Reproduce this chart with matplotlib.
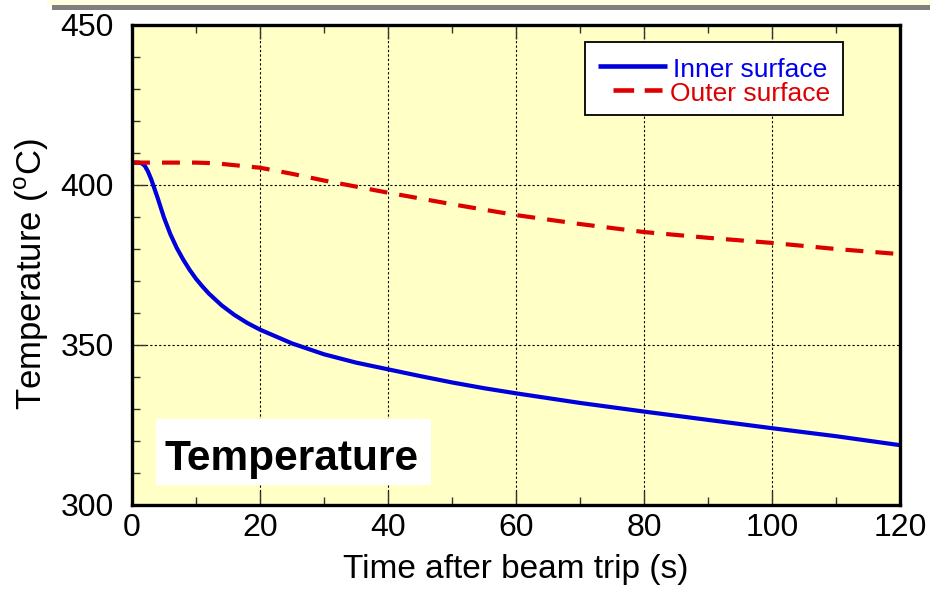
import matplotlib
matplotlib.use("Agg")
import matplotlib.pyplot as plt
from matplotlib.patches import Rectangle
from matplotlib.ticker import MultipleLocator

plt.rcParams['font.family'] = ['Liberation Sans', 'DejaVu Sans']
plt.rcParams['mathtext.fontset'] = 'custom'
plt.rcParams['mathtext.rm'] = 'Liberation Sans'

# data
inner_time = [0, 1, 1.5, 2, 2.5, 3, 4, 5, 6, 7, 8, 9, 10, 11, 12, 14, 16, 18, 20, 25, 30,
              35, 40, 45, 50, 55, 60, 70, 80, 90, 100, 110, 120]
inner_temp = [407, 407, 406.8, 406, 404.2, 401.8, 396, 389.8, 384.6, 380.3, 376.7, 373.5,
              370.7, 368.3, 366.1, 362.4, 359.4, 356.9, 354.8, 350.5, 347.1, 344.5, 342.4,
              340.3, 338.3, 336.5, 334.9, 331.9, 329.2, 326.6, 324, 321.5, 318.7]
outer_time = [0, 5, 10, 13, 15, 20, 25, 30, 35, 40, 50, 60, 70, 80, 90, 100, 110, 120]
outer_temp = [407, 407, 407, 406.8, 406.4, 405.4, 403.5, 401.4, 399.5, 397.6, 394, 390.6,
              387.8, 385.3, 383.5, 381.9, 380, 378.4]
x_ticks = [0, 20, 40, 60, 80, 100, 120]
y_ticks = [300, 350, 400, 450]

fig = plt.figure(figsize=(9.3, 6.01), dpi=100)
# slide decoration at the top
fig.patches.append(Rectangle((47 / 930, 1 - 5 / 601), 1, 5 / 601, transform=fig.transFigure,
                             facecolor='#FFFFE0', edgecolor='none'))
fig.patches.append(Rectangle((52 / 930, 1 - 10 / 601), 1, 5 / 601, transform=fig.transFigure,
                             facecolor='#808080', edgecolor='none'))

ax = fig.add_axes([132 / 930, 96 / 601, 768 / 930, 480 / 601])
ax.set_facecolor('#FFFFC6')

blue = '#0000DD'
red = '#DD0000'
ax.plot(inner_time, inner_temp, color=blue, lw=3, solid_capstyle='butt')
ax.plot(outer_time, outer_temp, color=red, lw=3, linestyle=(0, (4.3, 2.9)))

ax.set_xlim(0, 120)
ax.set_ylim(300, 450)
ax.set_xticks(x_ticks)
ax.set_yticks(y_ticks)
ax.xaxis.set_minor_locator(MultipleLocator(10))
ax.yaxis.set_minor_locator(MultipleLocator(10))
ax.tick_params(which='both', direction='in', top=True, right=False, color='#333333')
ax.tick_params(which='major', length=10, width=1, labelsize=23)
ax.tick_params(which='minor', length=6, width=1)
ax.tick_params(axis='x', which='major', pad=6)
ax.tick_params(axis='y', which='major', pad=13)
ax.grid(True, which='major', color='black', linestyle=(0, (2, 2)), lw=0.8)
for sp in ax.spines.values():
    sp.set_linewidth(2.4)

ax.set_xlabel('Time after beam trip (s)', fontsize=24, labelpad=8)
ax.set_ylabel(r'Temperature ($^{\rm o}$C)', fontsize=25, labelpad=7)
ax.yaxis.label.set_y(0.48)

# legend drawn by hand to match the original layout
ax.add_patch(Rectangle((0.590, 0.8125), 0.336, 0.152, transform=ax.transAxes,
                       facecolor='white', edgecolor='black', lw=1.3, zorder=5))
ax.plot([0.6068, 0.6966], [0.9146, 0.9146], transform=ax.transAxes, color=blue, lw=3.3,
        solid_capstyle='butt', zorder=6)
ax.plot([0.6263, 0.6901], [0.8646, 0.8646], transform=ax.transAxes, color=red, lw=3.3,
        linestyle=(0, (4.5, 2.3)), zorder=6)
ax.text(0.7044, 0.8917, 'Inner surface', transform=ax.transAxes, color='#0000EE',
        fontsize=19, va='baseline', ha='left', zorder=7)
ax.text(0.7005, 0.8417, 'Outer surface', transform=ax.transAxes, color=red,
        fontsize=19, va='baseline', ha='left', zorder=7)

# boxed title inside the plot
ax.add_patch(Rectangle((0.03125, 0.04167), 0.358, 0.1375, transform=ax.transAxes,
                       facecolor='white', edgecolor='none', zorder=5))
ax.text(0.04167, 0.0729, 'Temperature', transform=ax.transAxes, fontsize=30.5,
        fontweight='bold', va='baseline', ha='left', zorder=6)

fig.savefig('out.png', dpi=100)
